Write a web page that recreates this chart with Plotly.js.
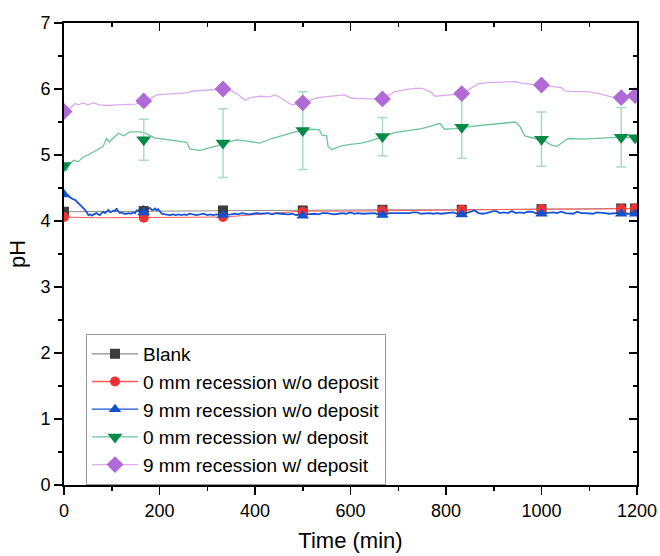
<!DOCTYPE html>
<html>
<head>
<meta charset="utf-8">
<script src="https://cdn.plot.ly/plotly-3.0.1.min.js"></script>
<style>html,body{margin:0;padding:0;background:#fff;}#chart{width:660px;height:556px;}</style>
</head>
<body>
<div id="chart"></div>
<script>
// Series names (legend)
const seriesNames = ["Blank", "0 mm recession w/o deposit", "9 mm recession w/o deposit", "0 mm recession w/ deposit", "9 mm recession w/ deposit"];

// Marker times (min)
const markerTime = [0, 167, 333, 500, 667, 833, 1000, 1167, 1196];
const blankMarkerPH = [4.14, 4.15, 4.16, 4.16, 4.17, 4.17, 4.18, 4.19, 4.19];
const red0MarkerPH = [4.06, 4.05, 4.06, 4.14, 4.16, 4.17, 4.18, 4.18, 4.19];
const blue9MarkerPH = [4.40, 4.13, 4.09, 4.08, 4.09, 4.10, 4.11, 4.11, 4.11];
const green0MarkerPH = [4.84, 5.23, 5.18, 5.37, 5.28, 5.42, 5.24, 5.27, 5.26];
const green0MarkerErr = [null, 0.31, 0.52, 0.59, 0.29, 0.47, 0.41, 0.45, null];
const purple9MarkerPH = [5.66, 5.82, 6.00, 5.79, 5.85, 5.93, 6.06, 5.87, 5.90];

// Continuous curves
const blankTime = [0, 167, 333, 500, 667, 833, 1000, 1167, 1196];
const blankPH = [4.14, 4.15, 4.16, 4.16, 4.17, 4.17, 4.18, 4.19, 4.19];

const redTime = [0, 30, 60, 100, 150, 200, 250, 300, 334, 370, 400, 440, 480, 520, 600, 700, 800, 900, 1000, 1100, 1196];
const redPH = [4.06, 4.05, 4.05, 4.05, 4.05, 4.05, 4.05, 4.06, 4.06, 4.08, 4.10, 4.12, 4.14, 4.15, 4.15, 4.16, 4.17, 4.17, 4.18, 4.18, 4.19];

const blueTime = [0, 2, 5, 9, 12, 16, 19, 23, 27, 30, 34, 37, 41, 44, 48, 51, 55, 58, 62, 68, 72, 75, 79, 82, 86, 90, 93, 97, 100, 104, 107, 110, 114, 117, 121, 126, 131, 136, 140, 145, 149, 152, 156, 159, 163, 166, 170, 173, 176, 180, 184, 187, 191, 194, 197, 201, 205, 212, 218, 222, 228, 234, 240, 246, 252, 257, 263, 270, 277, 285, 292, 300, 306, 313, 320, 327, 334, 342, 350, 358, 365, 372, 380, 388, 396, 404,
  412, 420, 428, 436, 445, 453, 461, 470, 478, 486, 494, 500, 508, 516, 525, 533, 541, 550, 558, 566, 575, 583, 591, 600, 608, 616, 625, 633, 641, 650, 658, 667, 675, 683, 690, 698, 706, 715, 723, 731, 740, 748, 756, 765, 773, 781, 790, 798, 806, 815, 823, 834, 842, 850, 860, 868, 876, 885, 893, 899, 905, 913, 921, 930, 938, 946, 955, 963, 971, 980, 988, 1000, 1008, 1016, 1025, 1033, 1041, 1050, 1058, 1066, 1075, 1083, 1091, 1100, 1108, 1116, 1125, 1133, 1141, 1150, 1158, 1167, 1175, 1185, 1196];
const bluePH = [4.40, 4.44, 4.40, 4.39, 4.36, 4.34, 4.33, 4.32, 4.29, 4.27, 4.25, 4.22, 4.20, 4.17, 4.13, 4.09, 4.10, 4.08, 4.10, 4.12, 4.10, 4.09, 4.12, 4.14, 4.12, 4.15, 4.17, 4.13, 4.14, 4.16, 4.15, 4.19, 4.14, 4.12, 4.13, 4.11, 4.11, 4.12, 4.11, 4.13, 4.12, 4.16, 4.15, 4.19, 4.18, 4.23, 4.19, 4.21, 4.18, 4.20, 4.17, 4.17, 4.19, 4.16, 4.18, 4.15, 4.11, 4.10, 4.09, 4.09, 4.10, 4.09, 4.10, 4.09, 4.10, 4.09, 4.11, 4.10, 4.09, 4.10, 4.11, 4.09, 4.10, 4.09, 4.10, 4.09, 4.09, 4.10, 4.10, 4.11, 4.10, 4.12, 4.11, 4.10, 4.11, 4.12,
  4.11, 4.11, 4.12, 4.10, 4.12, 4.11, 4.10, 4.10, 4.11, 4.09, 4.10, 4.09, 4.10, 4.11, 4.11, 4.10, 4.12, 4.12, 4.11, 4.10, 4.11, 4.12, 4.11, 4.13, 4.11, 4.12, 4.11, 4.11, 4.12, 4.12, 4.10, 4.10, 4.11, 4.12, 4.12, 4.11, 4.12, 4.11, 4.12, 4.13, 4.13, 4.11, 4.12, 4.12, 4.11, 4.12, 4.11, 4.12, 4.13, 4.13, 4.11, 4.10, 4.12, 4.14, 4.16, 4.12, 4.11, 4.12, 4.14, 4.15, 4.15, 4.12, 4.13, 4.12, 4.15, 4.12, 4.13, 4.12, 4.14, 4.14, 4.12, 4.11, 4.12, 4.13, 4.13, 4.12, 4.14, 4.12, 4.12, 4.11, 4.14, 4.12, 4.12, 4.12, 4.11, 4.13, 4.13, 4.12, 4.11, 4.12, 4.12, 4.12, 4.11, 4.11, 4.12, 4.12];

const greenTime = [0, 5, 12, 20, 30, 40, 50, 61, 70, 82, 89, 95, 105, 114, 125, 138, 159, 170, 190, 222, 240, 257, 264, 285, 300, 320, 334, 362, 385, 410, 435, 460, 484, 501, 519, 535, 540, 550, 553, 561, 581, 600, 623, 645, 667, 693, 720, 749, 770, 787, 797, 819, 834, 868, 903, 945, 955, 965, 986, 1000, 1021, 1032, 1056, 1085, 1112, 1140, 1166, 1196];
const greenPH = [4.84, 4.76, 4.86, 4.92, 4.90, 4.97, 5.00, 5.05, 5.08, 5.13, 5.25, 5.20, 5.27, 5.33, 5.29, 5.35, 5.35, 5.33, 5.26, 5.23, 5.21, 5.19, 5.09, 5.07, 5.10, 5.14, 5.18, 5.23, 5.21, 5.18, 5.25, 5.30, 5.35, 5.37, 5.39, 5.38, 5.30, 5.29, 5.13, 5.08, 5.14, 5.16, 5.18, 5.22, 5.28, 5.34, 5.37, 5.40, 5.44, 5.48, 5.39, 5.40, 5.42, 5.44, 5.47, 5.50, 5.43, 5.29, 5.25, 5.24, 5.15, 5.13, 5.25, 5.24, 5.25, 5.26, 5.27, 5.26];

const purpleTime = [0, 5, 13, 23, 30, 40, 50, 61, 75, 90, 110, 130, 150, 166, 180, 194, 215, 236, 255, 271, 290, 310, 334, 350, 362, 379, 390, 410, 430, 442, 456, 468, 477, 490, 501, 515, 526, 545, 561, 575, 588, 602, 623, 645, 667, 680, 693, 715, 735, 750, 767, 777, 798, 819, 834, 850, 868, 895, 924, 945, 958, 980, 1000, 1020, 1042, 1049, 1070, 1097, 1120, 1147, 1166, 1180, 1196];
const purplePH = [5.63, 5.66, 5.72, 5.78, 5.76, 5.79, 5.76, 5.79, 5.76, 5.75, 5.76, 5.76, 5.77, 5.82, 5.85, 5.91, 5.92, 5.93, 5.94, 5.97, 5.98, 5.99, 6.00, 5.97, 5.93, 5.83, 5.87, 5.89, 5.88, 5.91, 5.86, 5.80, 5.76, 5.78, 5.79, 5.82, 5.86, 5.88, 5.89, 5.90, 5.91, 5.86, 5.85, 5.85, 5.85, 5.90, 5.96, 5.99, 6.01, 6.01, 5.96, 5.89, 5.91, 5.92, 5.93, 6.00, 6.08, 6.10, 6.11, 6.11, 6.09, 6.07, 6.06, 6.04, 6.02, 5.97, 5.96, 5.96, 5.93, 5.88, 5.87, 5.88, 5.90];

// Styles
const lineColors = ["#8c8c8c", "#ff5a5a", "#1a55d6", "#6cc49c", "#dcaaf0"];
const lineWidths = [1, 1, 1.8, 1.3, 1.3];
const markerColors = ["#3d3d3d", "#f23232", "#1450d0", "#078a48", "#b06ad8"];
const markerSymbols = ["square", "circle", "triangle-up", "triangle-down", "diamond"];
const markerSizes = [10, 10, 11, 13, 13];

const curves = [[blankTime, blankPH], [redTime, redPH], [blueTime, bluePH], [greenTime, greenPH], [purpleTime, purplePH]];
const markerVals = [blankMarkerPH, red0MarkerPH, blue9MarkerPH, green0MarkerPH, purple9MarkerPH];

const traces = [];
curves.forEach((c, i) => {
  traces.push({
    x: c[0], y: c[1], type: "scatter", mode: "lines", showlegend: false,
    line: {color: lineColors[i], width: lineWidths[i]}, hoverinfo: "skip"
  });
});
const interleave = arr => arr.flatMap(v => [v, null]);
markerVals.forEach((vals, i) => {
  const t = {
    x: interleave(markerTime), y: interleave(vals), type: "scatter", mode: "lines+markers",
    name: seriesNames[i], connectgaps: false,
    line: {color: lineColors[i], width: 1.3},
    marker: {symbol: markerSymbols[i], size: markerSizes[i], color: markerColors[i]}
  };
  if (i === 3) {
    t.error_y = {type: "data", array: interleave(green0MarkerErr), visible: true, color: "#a9dcc4", thickness: 1.5, width: 5};
  }
  traces.push(t);
});
// empty trace so the mirrored frame axes (top/right, inward ticks) get drawn
traces.push({x: [], y: [], xaxis: "x2", yaxis: "y2", type: "scatter", mode: "markers", showlegend: false, hoverinfo: "skip"});

const font = {family: "Liberation Sans, Arial, sans-serif", color: "#000"};
const layout = {
  width: 660, height: 556,
  margin: {l: 64, r: 23, t: 23, b: 71},
  paper_bgcolor: "#fff", plot_bgcolor: "#fff",
  font: Object.assign({size: 18}, font),
  showlegend: true,
  legend: {
    x: 0.0384, y: 0.327, xanchor: "left", yanchor: "top",
    bgcolor: "#fff", bordercolor: "#9a9a9a", borderwidth: 1, itemwidth: 46,
    entrywidth: 265, entrywidthmode: "pixels",
    font: Object.assign({size: 19}, font), traceorder: "normal"
  },
  xaxis: {
    range: [0, 1200], tick0: 0, dtick: 200, ticks: "outside", ticklen: 8, tickwidth: 1.5, tickcolor: "#000",
    showline: true, linewidth: 2, linecolor: "#000", showgrid: false, zeroline: false,
    minor: {dtick: 100, ticks: "outside", ticklen: 4, tickwidth: 1.5, tickcolor: "#000", showgrid: false},
    tickfont: Object.assign({size: 18}, font),
    title: {text: "Time (min)", font: Object.assign({size: 22}, font), standoff: 13}
  },
  yaxis: {
    range: [0, 7], tick0: 0, dtick: 1, ticks: "outside", ticklen: 8, tickwidth: 1.5, tickcolor: "#000",
    showline: true, linewidth: 2, linecolor: "#000", showgrid: false, zeroline: false,
    minor: {dtick: 0.5, ticks: "outside", ticklen: 4, tickwidth: 1.5, tickcolor: "#000", showgrid: false},
    tickfont: Object.assign({size: 18}, font),
    title: {text: "pH", font: Object.assign({size: 22}, font), standoff: 9}
  },
  xaxis2: {
    overlaying: "x", side: "top", anchor: "y", range: [0, 1200], tick0: 0, dtick: 200,
    ticks: "inside", ticklen: 8, tickwidth: 1.5, tickcolor: "#000", showticklabels: false,
    showline: true, linewidth: 2, linecolor: "#000", showgrid: false, zeroline: false,
    minor: {dtick: 100, ticks: "inside", ticklen: 4, tickwidth: 1.5, tickcolor: "#000", showgrid: false}
  },
  yaxis2: {
    overlaying: "y", side: "right", anchor: "x", range: [0, 7], tick0: 0, dtick: 1,
    ticks: "inside", ticklen: 8, tickwidth: 1.5, tickcolor: "#000", showticklabels: false,
    showline: true, linewidth: 2, linecolor: "#000", showgrid: false, zeroline: false,
    minor: {dtick: 0.5, ticks: "inside", ticklen: 4, tickwidth: 1.5, tickcolor: "#000", showgrid: false}
  }
};

Plotly.newPlot("chart", traces, layout, {displayModeBar: false, staticPlot: true});
</script>
</body>
</html>
